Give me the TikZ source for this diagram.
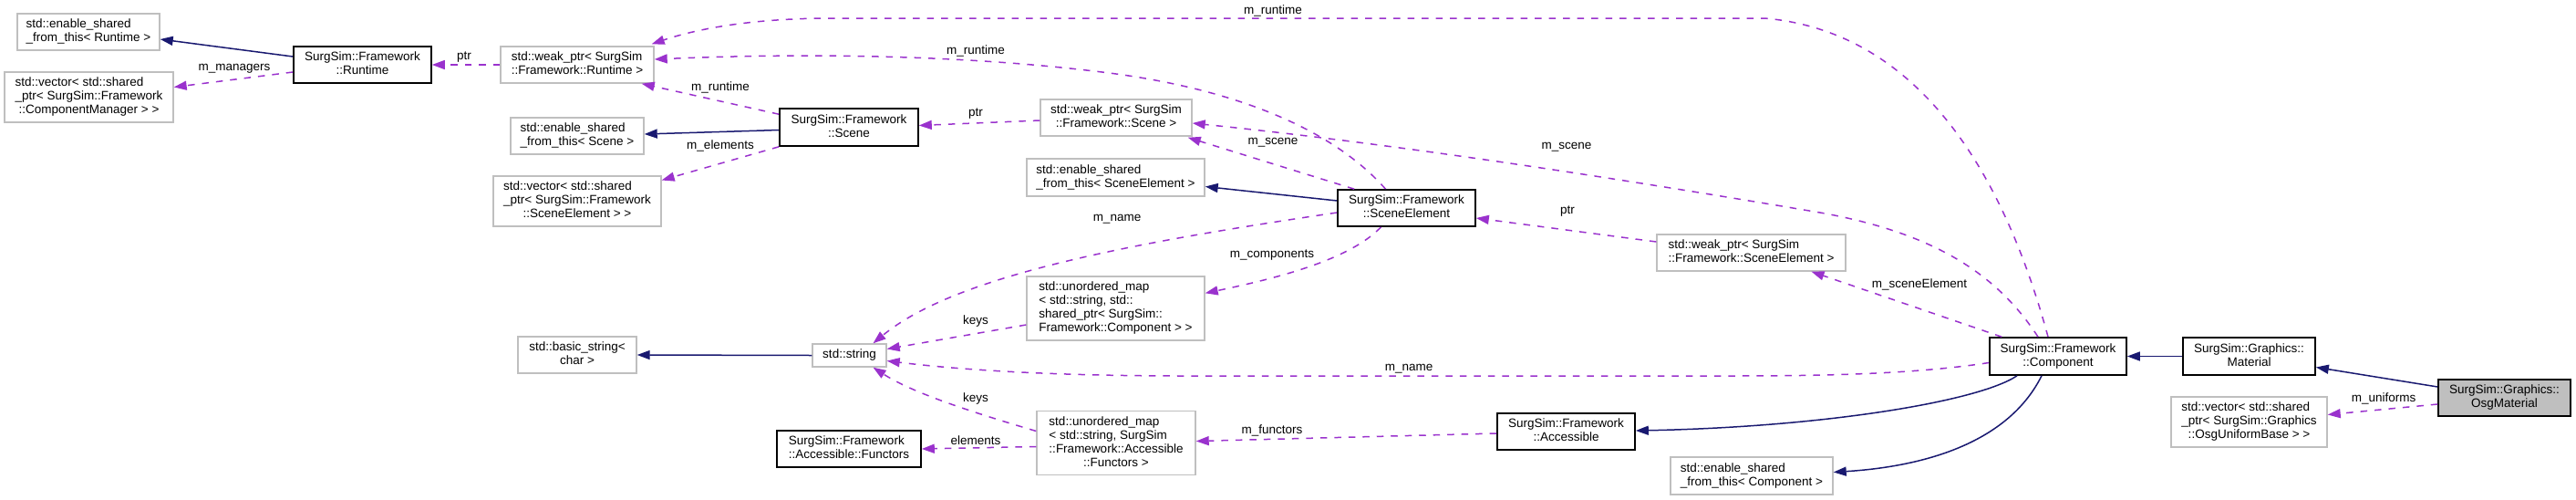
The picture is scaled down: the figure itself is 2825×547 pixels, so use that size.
\documentclass[tikz,border=0pt]{standalone}
\usepackage{fontspec}
\setmainfont{Liberation Sans}
\usetikzlibrary{arrows.meta,calc}
\definecolor{navy}{HTML}{191970}
\definecolor{orch}{HTML}{9A32CD}
\definecolor{gborder}{HTML}{BFBFBF}
\newcommand\lc[1]{\multicolumn{1}{@{}c@{}}{#1}}
\newcommand\tb[1]{\begin{tabular}{@{}l@{}}#1\end{tabular}}
\tikzset{
 base/.style={rectangle, inner sep=0pt, font=\fontsize{13.5}{15}\selectfont, anchor=center},
 gbox/.style={base, draw=gborder, line width=1.4pt, fill=white},
 kbox/.style={base, draw=black, line width=1.6pt, fill=white},
 hbox/.style={base, draw=black, line width=1.6pt, fill=gborder},
 inh/.style={draw=navy, line width=1.5pt, -{Triangle[length=14pt,width=10pt]}},
 dep/.style={draw=orch, line width=1.5pt, dash pattern=on 7.5pt off 8pt, -{Triangle[length=14pt,width=10pt]}},
 lbl/.style={font=\fontsize{13.5}{15}\selectfont, inner sep=0pt},
}
\begin{document}
\begin{tikzpicture}[x=1pt,y=-1pt]
\useasboundingbox (0,0) rectangle (2825,547);

% nodes
\node[gbox, minimum width=156pt, minimum height=40pt] (esftR) at (97,35) {\tb{std::enable\_shared\\\_from\_this< Runtime >}};
\node[gbox, minimum width=185pt, minimum height=55pt] (vecCM) at (97.5,106.5) {\tb{std::vector< std::shared\\\_ptr< SurgSim::Framework\\\lc{::ComponentManager > >}}};
\node[kbox, minimum width=151pt, minimum height=40pt] (runtime) at (397.5,71) {\begin{tabular}{@{}c@{}}SurgSim::Framework\\::Runtime\end{tabular}};
\node[gbox, minimum width=168pt, minimum height=40pt] (weakR) at (633,71) {\tb{std::weak\_ptr< SurgSim\\\lc{::Framework::Runtime >}}};
\node[gbox, minimum width=146pt, minimum height=40pt] (esftS) at (633,149) {\tb{std::enable\_shared\\\_from\_this< Scene >}};
\node[gbox, minimum width=184pt, minimum height=55pt] (vecSE) at (633,220.5) {\tb{std::vector< std::shared\\\_ptr< SurgSim::Framework\\\lc{::SceneElement > >}}};
\node[kbox, minimum width=152pt, minimum height=41pt] (scene) at (931,139.5) {\begin{tabular}{@{}c@{}}SurgSim::Framework\\::Scene\end{tabular}};
\node[gbox, minimum width=166pt, minimum height=40pt] (weakS) at (1224,129) {\tb{std::weak\_ptr< SurgSim\\\lc{::Framework::Scene >}}};
\node[gbox, minimum width=195pt, minimum height=41pt] (esftSE) at (1223.5,194.5) {\tb{std::enable\_shared\\\_from\_this< SceneElement >}};
\node[kbox, minimum width=151pt, minimum height=40pt] (sceneEl) at (1542.5,228) {\begin{tabular}{@{}c@{}}SurgSim::Framework\\::SceneElement\end{tabular}};
\node[gbox, minimum width=207pt, minimum height=40pt] (weakSE) at (1920.5,277) {\tb{std::weak\_ptr< SurgSim\\::Framework::SceneElement >}};
\node[gbox, minimum width=195pt, minimum height=70pt] (umapC) at (1223.5,338) {\tb{std::unordered\_map\\< std::string, std::\\shared\_ptr< SurgSim::\\Framework::Component > >}};
\node[gbox, minimum width=130pt, minimum height=40pt] (basicstr) at (633,389) {\tb{std::basic\_string<\\\lc{char >}}};
\node[gbox, minimum width=81pt, minimum height=25pt] (string) at (931.5,389.5) {std::string};
\node[gbox, minimum width=174pt, minimum height=70pt] (umapF) at (1224,485.5) {\tb{std::unordered\_map\\< std::string, SurgSim\\::Framework::Accessible\\\lc{::Functors >}}};
\node[kbox, minimum width=158pt, minimum height=40pt] (functors) at (931,492) {\tb{SurgSim::Framework\\::Accessible::Functors}};
\node[kbox, minimum width=151pt, minimum height=40pt] (accessible) at (1717.5,473) {\begin{tabular}{@{}c@{}}SurgSim::Framework\\::Accessible\end{tabular}};
\node[kbox, minimum width=150pt, minimum height=41pt] (component) at (2257,390.5) {\begin{tabular}{@{}c@{}}SurgSim::Framework\\::Component\end{tabular}};
\node[gbox, minimum width=178pt, minimum height=41pt] (esftC) at (1921,521.5) {\tb{std::enable\_shared\\\_from\_this< Component >}};
\node[kbox, minimum width=145pt, minimum height=41pt] (material) at (2466.5,390.5) {\begin{tabular}{@{}c@{}}SurgSim::Graphics::\\Material\end{tabular}};
\node[gbox, minimum width=171pt, minimum height=55pt] (vecOU) at (2466.5,462.5) {\tb{std::vector< std::shared\\\_ptr< SurgSim::Graphics\\\lc{::OsgUniformBase > >}}};
\node[hbox, minimum width=145pt, minimum height=40pt] (osg) at (2746.5,436) {\begin{tabular}{@{}c@{}}SurgSim::Graphics::\\OsgMaterial\end{tabular}};

% edges
\draw[inh] ($(runtime.west)+(0,-9)$) -- ($(esftR.east)+(0,8)$);
\draw[dep] ($(runtime.west)+(0,8)$) -- ($(vecCM.east)+(0,-11)$);
\draw[dep] (weakR.west) -- (runtime.east);
\draw[dep] ($(scene.north west)+(0,7)$) -- ($(weakR.south east)+(-14,0)$);
\draw[inh] ($(scene.west)+(0,3)$) -- ($(esftS.east)+(0,-2)$);
\draw[dep] (scene.south west) -- ($(vecSE.east)+(0,-23)$);
\draw[dep] ($(weakS.west)+(0,3)$) -- ($(scene.east)+(0,-2)$);
\draw[dep] ($(sceneEl.north)+(-23,0)$) .. controls (1460,140) and (1350,95) .. (1200,78) .. controls (1050,60) and (880,58) .. ($(weakR.east)+(0,-6)$);
\draw[dep] ($(component.north)+(-11,0)$) .. controls (2200,200) and (2110,35) .. (1935,20) -- (912,20) .. controls (820,20) and (760,33) .. ($(weakR.north east)+(-3,-2)$);
\draw[dep] ($(sceneEl.north west)+(19,0)$) -- ($(weakS.south east)+(-5,1)$);
\draw[dep] ($(component.north)+(-22,0)$) .. controls (2190,300) and (2120,255) .. (1996,233) .. controls (1800,200) and (1550,160) .. ($(weakS.east)+(0,6)$);
\draw[inh] ($(sceneEl.west)+(0,-8)$) -- ($(esftSE.east)+(0,10)$);
\draw[dep] ($(weakSE.west)+(0,-12)$) -- ($(sceneEl.east)+(0,11)$);
\draw[dep] ($(sceneEl.west)+(0,5)$) .. controls (1250,265) and (1050,300) .. ($(string.north)+(26,0)$);
\draw[dep] ($(sceneEl.south)+(-28,0)$) .. controls (1480,285) and (1400,305) .. ($(umapC.north east)+(0,19)$);
\draw[dep] ($(umapC.west)+(0,18)$) -- ($(string.east)+(0,-7)$);
\draw[inh] (string.west) -- (basicstr.east);
\draw[dep] ($(component.west)+(0,7)$) .. controls (2100,410) and (2000,412) .. (1900,412) -- (1300,412) .. controls (1150,412) and (1050,405) .. ($(string.east)+(0,6)$);
\draw[dep] ($(umapF.west)+(0,-13)$) .. controls (1060,450) and (1000,430) .. ($(string.south)+(26,0)$);
\draw[dep] ($(umapF.west)+(0,4)$) -- (functors.east);
\draw[dep] ($(accessible.west)+(0,2)$) -- ($(umapF.east)+(0,-2)$);
\draw[inh] ($(component.south)+(-45,0)$) .. controls (2170,440) and (2000,468) .. ($(accessible.east)+(0,-1)$);
\draw[inh] ($(component.south)+(-18,0)$) .. controls (2200,490) and (2100,512) .. ($(esftC.east)+(0,-4)$);
\draw[dep] ($(component.north west)+(14,0)$) -- ($(weakSE.south)+(66,0)$);
\draw[inh] (material.west) -- (component.east);
\draw[inh] ($(osg.west)+(0,-12)$) -- ($(material.east)+(0,12)$);
\draw[dep] ($(osg.west)+(0,7)$) -- ($(vecOU.east)+(0,-8)$);

% labels
\node[lbl] (l1) at (257,75) {m\_managers};
\node[lbl] (l2) at (509,63) {ptr};
\node[lbl] (l3) at (790,96) {m\_runtime};
\node[lbl] (l4) at (790,160) {m\_elements};
\node[lbl] (l5) at (1070,125) {ptr};
\node[lbl] (l6) at (1070,56) {m\_runtime};
\node[lbl] (l7) at (1396,12) {m\_runtime};
\node[lbl] (l8) at (1396,156) {m\_scene};
\node[lbl] (l9) at (1718,161) {m\_scene};
\node[lbl] (l10) at (1719,232) {ptr};
\node[lbl] (l11) at (1225,240) {m\_name};
\node[lbl] (l12) at (1395,280) {m\_components};
\node[lbl] (l13) at (1070,352) {keys};
\node[lbl] (l14) at (1545,404) {m\_name};
\node[lbl] (l15) at (1070,437) {keys};
\node[lbl] (l16) at (1070,483) {elements};
\node[lbl] (l17) at (1395,472) {m\_functors};
\node[lbl] (l18) at (2105,312) {m\_sceneElement};
\node[lbl] (l19) at (2614,437) {m\_uniforms};
\end{tikzpicture}
\end{document}
